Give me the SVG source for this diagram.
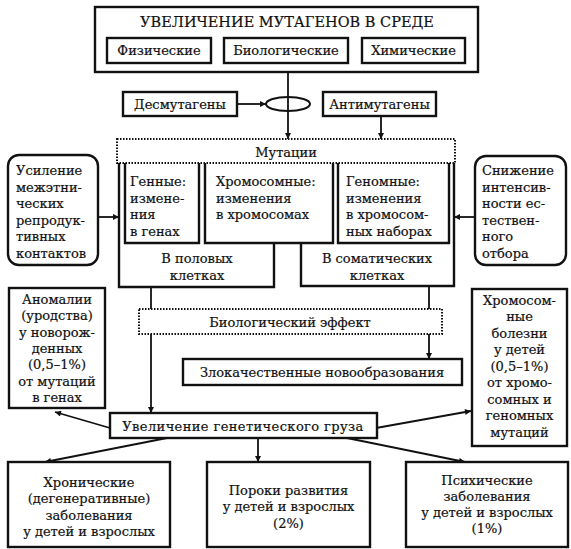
<svg xmlns="http://www.w3.org/2000/svg" width="571" height="549" viewBox="0 0 571 549">
<style>
.b{fill:#fff;stroke:#111;stroke-width:2.4}
.d{fill:#fff;stroke:#111;stroke-width:2;stroke-dasharray:1.5 1.5}
.l{fill:none;stroke:#111;stroke-width:1.8}
.w{fill:none;stroke:#111;stroke-width:2.4}
text{font-family:"DejaVu Serif","Liberation Serif",serif;font-size:13px;fill:#111;stroke:#111;stroke-width:0.2}
.c{text-anchor:middle}
.t{font-size:14.5px}
</style>
<defs>
<marker id="a" viewBox="0 0 10 10" refX="10" refY="5" markerWidth="8" markerHeight="6" markerUnits="userSpaceOnUse" orient="auto">
<path d="M0,0L10,5L0,10z" fill="#111"/>
</marker>
</defs>
<rect width="571" height="549" fill="#fff"/>
<g id="connectors">
<line class="l" x1="288" y1="72" x2="288" y2="139" marker-end="url(#a)"/>
<line class="l" x1="237" y1="104" x2="266" y2="104" marker-end="url(#a)"/>
<line class="l" x1="381" y1="116" x2="381" y2="139" marker-end="url(#a)"/>
<line class="l" x1="98" y1="217" x2="119" y2="217" marker-end="url(#a)"/>
<line class="l" x1="475" y1="217" x2="454" y2="217" marker-end="url(#a)"/>
<line class="l" x1="151" y1="287" x2="151" y2="309"/>
<line class="l" x1="429" y1="286" x2="429" y2="309"/>
<line class="l" x1="151" y1="334" x2="151" y2="413" marker-end="url(#a)"/>
<line class="l" x1="429" y1="334" x2="429" y2="359" marker-end="url(#a)"/>
<line class="l" x1="110" y1="428" x2="55" y2="412" marker-end="url(#a)"/>
<line class="l" x1="376" y1="428" x2="471" y2="411" marker-end="url(#a)"/>
<line class="l" x1="167" y1="438" x2="45" y2="462" marker-end="url(#a)"/>
<line class="l" x1="258" y1="438" x2="258" y2="462" marker-end="url(#a)"/>
<line class="l" x1="347" y1="438" x2="465" y2="462" marker-end="url(#a)"/>
</g>
<g id="env">
<rect class="b" x="95" y="7" width="383" height="65"/>
<text class="c t" x="287" y="27">УВЕЛИЧЕНИЕ МУТАГЕНОВ В СРЕДЕ</text>
</g>
<g id="phys"><rect class="b" x="107" y="38" width="104" height="25"/><text class="c" x="159" y="55">Физические</text></g>
<g id="bio"><rect class="b" x="224" y="38" width="124" height="25"/><text class="c" x="286" y="55">Биологические</text></g>
<g id="chem"><rect class="b" x="362" y="38" width="103" height="25"/><text class="c" x="413.5" y="55">Химические</text></g>
<g id="ellipse"><ellipse cx="288" cy="104" rx="22" ry="7" fill="none" stroke="#111" stroke-width="2"/></g>
<g id="desm"><rect class="b" x="123" y="92" width="114" height="24"/><text class="c" x="180" y="108.5">Десмутагены</text></g>
<g id="antim"><rect class="b" x="323" y="92" width="113" height="24"/><text class="c" x="379.5" y="108.5">Антимутагены</text></g>
<g id="sex">
<path class="w" d="M119,163V287H274V243"/>
<text class="c" x="197" y="262.5">В половых</text>
<text class="c" x="197" y="279.5">клетках</text>
</g>
<g id="soma">
<path class="w" d="M301,243V286H454V163"/>
<text class="c" x="377" y="262.5">В соматических</text>
<text class="c" x="377" y="279.5">клетках</text>
</g>
<g id="gene">
<path class="w" d="M125,163V243H199V163"/>
<text x="130" y="186">Генные:</text>
<text x="130" y="202.5">измене-</text>
<text x="130" y="219">ния</text>
<text x="130" y="235.5">в генах</text>
</g>
<g id="chrom">
<path class="w" d="M205,163V243H333V163"/>
<text x="216" y="186">Хромосомные:</text>
<text x="216" y="202.5">изменения</text>
<text x="216" y="219">в хромосомах</text>
</g>
<g id="genom">
<path class="w" d="M338,163V243H449V163"/>
<text x="346" y="186">Геномные:</text>
<text x="346" y="202.5">изменения</text>
<text x="346" y="219">в хромосом-</text>
<text x="346" y="235.5">ных наборах</text>
</g>
<g id="mut"><rect class="d" x="117" y="139" width="338" height="24"/><text class="c" x="286" y="157">Мутации</text></g>
<g id="inter">
<rect class="b" x="8" y="155" width="90" height="110" rx="11"/>
<text x="16" y="175">Усиление</text>
<text x="16" y="191.5">межэтни-</text>
<text x="16" y="208">ческих</text>
<text x="16" y="224.5">репродук-</text>
<text x="16" y="241">тивных</text>
<text x="16" y="257.5">контактов</text>
</g>
<g id="select">
<rect class="b" x="475" y="156" width="91" height="109" rx="11"/>
<text x="482" y="175">Снижение</text>
<text x="482" y="191.5">интенсив-</text>
<text x="482" y="208">ности ес-</text>
<text x="482" y="224.5">тествен-</text>
<text x="482" y="241">ного</text>
<text x="482" y="257.5">отбора</text>
</g>
<g id="effect"><rect class="d" x="139" y="309" width="303" height="25"/><text class="c" x="290" y="327">Биологический эффект</text></g>
<g id="malig"><rect class="b" x="183" y="359" width="279" height="26"/><text class="c" x="322" y="377">Злокачественные новообразования</text></g>
<g id="load"><rect class="b" x="110" y="413" width="267" height="25"/><text class="c" x="243" y="431" style="letter-spacing:0.4px">Увеличение генетического груза</text></g>
<g id="anom">
<rect class="b" x="9" y="288" width="96" height="120"/>
<text class="c" x="57" y="304">Аномалии</text>
<text class="c" x="57" y="320.3">(уродства)</text>
<text class="c" x="57" y="336.6">у новорож-</text>
<text class="c" x="57" y="352.9">денных</text>
<text class="c" x="57" y="369.2">(0,5–1%)</text>
<text class="c" x="57" y="385.5">от мутаций</text>
<text class="c" x="57" y="401.8">в генах</text>
</g>
<g id="chromdis">
<rect class="b" x="472" y="289" width="95" height="157"/>
<text class="c" x="519.5" y="304.5">Хромосом-</text>
<text class="c" x="519.5" y="321">ные</text>
<text class="c" x="519.5" y="337.5">болезни</text>
<text class="c" x="519.5" y="354">у детей</text>
<text class="c" x="519.5" y="370.5">(0,5–1%)</text>
<text class="c" x="519.5" y="387">от хромо-</text>
<text class="c" x="519.5" y="403.5">сомных и</text>
<text class="c" x="519.5" y="420">геномных</text>
<text class="c" x="519.5" y="436.5">мутаций</text>
</g>
<g id="chronic">
<rect class="b" x="8" y="462" width="162" height="85"/>
<text class="c" x="89" y="486.5">Хронические</text>
<text class="c" x="89" y="503">(дегенеративные)</text>
<text class="c" x="89" y="519.5">заболевания</text>
<text class="c" x="89" y="536">у детей и взрослых</text>
</g>
<g id="defects">
<rect class="b" x="207" y="462" width="163" height="85"/>
<text class="c" x="288.5" y="494.5">Пороки развития</text>
<text class="c" x="288.5" y="511">у детей и взрослых</text>
<text class="c" x="288.5" y="527.5">(2%)</text>
</g>
<g id="psych">
<rect class="b" x="406" y="462" width="162" height="85"/>
<text class="c" x="487" y="485">Психические</text>
<text class="c" x="487" y="501">заболевания</text>
<text class="c" x="487" y="517">у детей и взрослых</text>
<text class="c" x="487" y="533">(1%)</text>
</g>
</svg>
